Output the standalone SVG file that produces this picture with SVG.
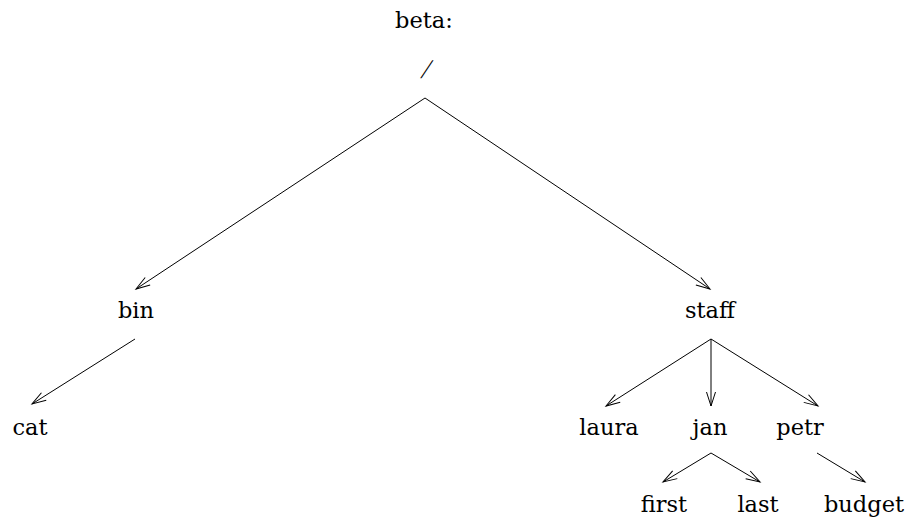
<svg xmlns="http://www.w3.org/2000/svg" width="911" height="517" viewBox="0 0 911 517">
  <defs>
    <marker id="arrow" markerUnits="userSpaceOnUse" markerWidth="20" markerHeight="20" refX="15" refY="10" orient="auto" overflow="visible">
      <path d="M1,5.5 L15,10 L1,14.5" fill="none" stroke="#000" stroke-width="1"/>
    </marker>
    <style>
      .lbl { font-family: "DejaVu Serif", "Liberation Serif", serif; font-size: 22.5px; fill: #000; text-anchor: middle; }
      .edge { stroke: #000; stroke-width: 1; fill: none; marker-end: url(#arrow); }
    </style>
  </defs>
  <rect width="911" height="517" fill="#fff"/>

  <g id="title"><text class="lbl" x="424" y="28">beta:</text></g>
  <g id="root"><text transform="translate(424,78) skewX(-18)" x="0" y="0" font-family="Liberation Serif, serif" font-size="27" text-anchor="middle" fill="#000">/</text></g>
  <g id="bin"><text class="lbl" x="136" y="318">bin</text></g>
  <g id="staff"><text class="lbl" x="710" y="318">staff</text></g>
  <g id="cat"><text class="lbl" x="30" y="435">cat</text></g>
  <g id="laura"><text class="lbl" x="609" y="435">laura</text></g>
  <g id="jan"><text class="lbl" x="710" y="435">jan</text></g>
  <g id="petr"><text class="lbl" x="800" y="435">petr</text></g>
  <g id="first"><text class="lbl" x="664" y="512">first</text></g>
  <g id="last"><text class="lbl" x="758" y="512">last</text></g>
  <g id="budget"><text class="lbl" x="864" y="512">budget</text></g>

  <g id="connectors">
    <line class="edge" x1="425" y1="98" x2="136" y2="289"/>
    <line class="edge" x1="425" y1="98" x2="710" y2="289"/>
    <line class="edge" x1="135" y1="339" x2="32" y2="404"/>
    <line class="edge" x1="711" y1="339" x2="606" y2="406"/>
    <line class="edge" x1="711" y1="339" x2="711" y2="406"/>
    <line class="edge" x1="711" y1="339" x2="818" y2="406"/>
    <line class="edge" x1="711" y1="453" x2="663" y2="482"/>
    <line class="edge" x1="711" y1="453" x2="760" y2="482"/>
    <line class="edge" x1="817" y1="453" x2="865" y2="482"/>
  </g>
</svg>
